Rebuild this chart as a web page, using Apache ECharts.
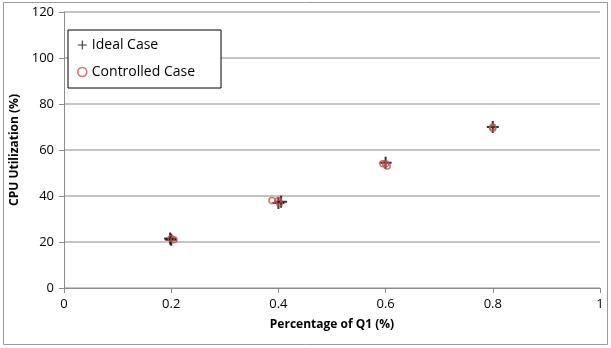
<!DOCTYPE html>
<html><head><meta charset="utf-8">
<script src="https://cdn.jsdelivr.net/npm/echarts@6/dist/echarts.min.js"></script>
<style>html,body{margin:0;padding:0;background:#fff}#c{width:611px;height:348px}</style>
</head><body><div id="c"></div>
<script>
const xTicks = [0, 0.2, 0.4, 0.6, 0.8, 1];
const yTicks = [0, 20, 40, 60, 80, 100, 120];
const idealX = [0.2, 0.198, 0.4, 0.405, 0.6, 0.8];
const idealY = [21, 21.5, 37, 37.5, 54.5, 70];
const ctrlX = [0.2, 0.205, 0.388, 0.4, 0.402, 0.595, 0.6, 0.603, 0.8, 0.8];
const ctrlY = [21.5, 21, 38, 38, 37, 54, 54, 53, 70, 69.5];

const font = '"Open Sans", "Liberation Sans", sans-serif';
const chart = echarts.init(document.getElementById('c'));
chart.setOption({
  animation: false,
  backgroundColor: '#fff',
  graphic: [{type:'rect', shape:{x:3.5,y:2.5,width:604,height:342}, style:{fill:'none', stroke:'#9a9a9a', lineWidth:1}}],
  grid: {left: 64, right: 11, top: 12, bottom: 60},
  legend: {
    left: 68, top: 30, orient: 'vertical',
    padding: [8, 26, 9, 9], itemGap: 13,
    borderColor: '#000', borderWidth: 1, backgroundColor: '#fff',
    itemWidth: 9, itemHeight: 9,
    textStyle: {fontFamily: font, fontSize: 14, color: '#000'},
    data: [
      {name: 'Ideal Case', icon: 'path://M0,4.4h10v1.2h-10z M4.4,0h1.2v10h-1.2z'},
      {name: 'Controlled Case', icon: 'circle', itemStyle: {color: '#fff', borderColor: '#c0504d', borderWidth: 1.6}}
    ]
  },
  xAxis: {
    type: 'value', min: xTicks[0], max: xTicks[xTicks.length-1], interval: 0.2,
    name: 'Percentage of Q1 (%)', nameLocation: 'middle', nameGap: 31,
    nameTextStyle: {fontFamily: font, fontSize: 12, fontWeight: 'bold', color: '#000'},
    axisLine: {lineStyle: {color: '#8c8c8c', width: 1}},
    axisTick: {show: true, length: 5, lineStyle: {color: '#8c8c8c'}},
    axisLabel: {fontFamily: font, fontSize: 13, color: '#000', margin: 10},
    splitLine: {show: false}
  },
  yAxis: {
    type: 'value', min: yTicks[0], max: yTicks[yTicks.length-1], interval: 20,
    name: 'CPU Utilization (%)', nameLocation: 'middle', nameGap: 37,
    nameTextStyle: {fontFamily: font, fontSize: 12, fontWeight: 'bold', color: '#000'},
    axisLine: {show: true, lineStyle: {color: '#8c8c8c', width: 1}},
    axisTick: {show: true, length: 5, lineStyle: {color: '#8c8c8c'}},
    axisLabel: {fontFamily: font, fontSize: 13, color: '#000', margin: 10},
    splitLine: {show: true, lineStyle: {color: '#b0b0b0', width: 1.5}}
  },
  series: [
    {
      name: 'Ideal Case', type: 'scatter',
      symbol: 'path://M0,5h12v2h-12z M5,0h2v12h-2z', symbolSize: 12,
      itemStyle: {color: '#000'},
      data: idealX.map((x, i) => [x, idealY[i]])
    },
    {
      name: 'Controlled Case', type: 'scatter',
      symbol: 'circle', symbolSize: 6,
      itemStyle: {color: 'rgba(255,255,255,0)', borderColor: '#c0504d', borderWidth: 1.5},
      data: ctrlX.map((x, i) => [x, ctrlY[i]])
    }
  ]
});
</script></body></html>
